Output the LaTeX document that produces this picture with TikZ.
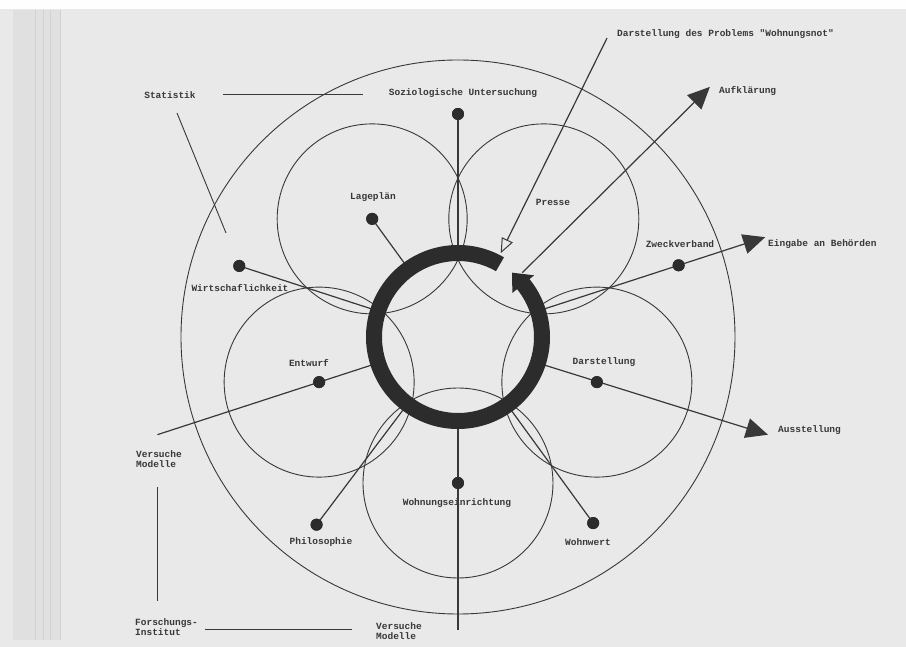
\documentclass[tikz,border=0pt]{standalone}
\usepackage{fontspec}
\setmonofont{Liberation Mono}
\usetikzlibrary{arrows.meta}
\definecolor{paper}{HTML}{E9E9E9}
\definecolor{edge}{HTML}{E0E0E0}
\definecolor{ink}{HTML}{383838}
\definecolor{ringc}{HTML}{2C2C2C}
\tikzset{
  lbl/.style={font=\ttfamily\bfseries\fontsize{9.5}{10}\selectfont, text=ink, inner sep=0pt, align=left},
  thin line/.style={draw=ink, line width=0.9pt},
  ray/.style={draw=ink, line width=1.2pt},
  dotnode/.style={circle, fill=ringc, inner sep=0pt, minimum size=12pt},
  bigtip/.style={-{Triangle[length=22pt,width=20pt]}},
  opentip/.style={-{Triangle[open,length=15pt,width=12pt,line width=1pt]}}
}
\begin{document}
\begin{tikzpicture}[x=1pt,y=1pt]
% paper
\useasboundingbox (-458,-310) rectangle (448,337);
\fill[paper] (-458,-310) rectangle (448,337);
\fill[white!96!paper] (-458,328) rectangle (448,337);
\fill[edge] (-445,-303) rectangle (-398,327);
\foreach \xx in {-423,-415,-408,-398}{\draw[gray!35,line width=0.6pt] (\xx,-303) -- (\xx,327);}

% outer circle and five circles
\draw[thin line] (0,0) circle[radius=277];
\foreach \a in {54,126,198,270,342}{\draw[thin line] (\a:146) circle[radius=95];}

% coordinates on the ring
\foreach \a/\n in {90/rsoz,126/rlag,162/rwir,198/rent,233/rphi,270/rwoe,306/rwow,342/rdar,18/rzwe,45/rauf}{\coordinate (\n) at (\a:91);}

% dots
\node[dotnode] (dsoz) at (90:223) {};
\node[dotnode] (dlag) at (126:146) {};
\node[dotnode] (dwir) at (162:230) {};
\node[dotnode] (dent) at (198:146) {};
\node[dotnode] (dphi) at (233:235) {};
\node[dotnode] (dwoe) at (270:146) {};
\node[dotnode] (dwow) at (306:230) {};
\node[dotnode] (ddar) at (342:146) {};
\node[dotnode] (dzwe) at (18:232) {};

% free ends
\coordinate (eent) at (198:316);
\coordinate (ewoe) at (270:293);
\coordinate (edar) at (342.5:325);
\coordinate (ezwe) at (18:323);
\coordinate (eauf) at (44.8:355);
\coordinate (sprob) at (63.5:334);
\coordinate (tprob) at (63:94);

% radial lines
\draw[ray] (dsoz.center) -- (rsoz);
\draw[ray] (dlag.center) -- (rlag);
\draw[ray] (dwir.center) -- (rwir);
\draw[ray] (rent) -- (eent);
\draw[ray] (dphi.center) -- (rphi);
\draw[ray] (rwoe) -- (ewoe);
\draw[ray] (dwow.center) -- (rwow);
\draw[ray,bigtip] (rdar) -- (edar);
\draw[ray,bigtip] (rzwe) -- (ezwe);
\draw[ray,bigtip] (rauf) -- (eauf);
\draw[ray,opentip] (sprob) -- (tprob);

% central ring with arrow
\fill[ringc] (60:92) arc[start angle=60, end angle=399, radius=92]
  -- (399:98) -- (50:84) -- (399:70) -- (399:76)
  arc[start angle=399, end angle=60, radius=76] -- cycle;

% redraw dots on top
\foreach \d in {dsoz,dlag,dwir,dent,dphi,dwoe,dwow,ddar,dzwe}{\fill[ringc] (\d) circle[radius=6];}

% side lines
\coordinate (st1) at (-235,242.5); \coordinate (st2) at (-95,242.5);
\coordinate (sd1) at (-281,224); \coordinate (sd2) at (-232,104);
\coordinate (vl1) at (-301,-150); \coordinate (vl2) at (-301,-264);
\coordinate (hb1) at (-253,-292); \coordinate (hb2) at (-106,-292);
\draw[thin line] (st1) -- (st2);
\draw[thin line] (sd1) -- (sd2);
\draw[thin line] (vl1) -- (vl2);
\draw[thin line] (hb1) -- (hb2);

% labels
\node[lbl] (tstat) at (-288,242) {Statistik};
\node[lbl] (tsoz) at (5,244) {Soziologische Untersuchung};
\node[lbl] (tlag) at (-85,140) {Lageplän};
\node[lbl] (tpre) at (95,135) {Presse};
\node[lbl,anchor=west] (tprob) at (159,303) {Darstellung des Problems "Wohnungsnot"};
\node[lbl,anchor=west] (tauf) at (261,246) {Aufklärung};
\node[lbl] (tzwe) at (222,93) {Zweckverband};
\node[lbl,anchor=west] (tein) at (310,93) {Eingabe an Behörden};
\node[lbl] (twir) at (-218,49) {Wirtschaflichkeit};
\node[lbl] (tent) at (-149,-26) {Entwurf};
\node[lbl] (tdar) at (146,-25) {Darstellung};
\node[lbl,anchor=west] (taus) at (320,-93) {Ausstellung};
\node[lbl,anchor=west] (tver1) at (-322,-122) {Versuche\\Modelle};
\node[lbl] (tphi) at (-137,-205) {Philosophie};
\node[lbl] (twoe) at (-1,-166) {Wohnungseinrichtung};
\node[lbl] (twow) at (130,-205) {Wohnwert};
\node[lbl,anchor=west] (tfor) at (-323,-290.5) {Forschungs-\\Institut};
\node[lbl,anchor=west] (tver2) at (-82,-294) {Versuche\\Modelle};
\end{tikzpicture}
\end{document}
